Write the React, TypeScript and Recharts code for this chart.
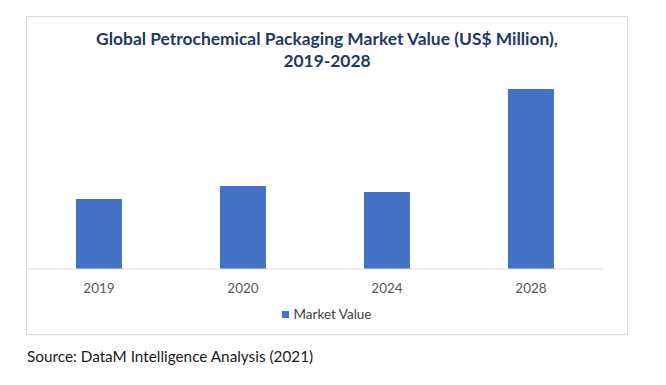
import React from 'react'
import { BarChart, Bar, XAxis, YAxis, Legend } from 'recharts'

const years = ['2019', '2020', '2024', '2028']
const marketValue = [70, 83, 77, 180]

const data = years.map((year, i) => ({ year, value: marketValue[i] }))

const font = 'Lato, "Open Sans", sans-serif'

const LegendContent = () => (
  <div style={{ display: 'flex', justifyContent: 'center', alignItems: 'center', height: 20 }}>
    <span style={{ width: 7, height: 7, background: '#4472c4', marginRight: 4 }} />
    <span style={{ fontSize: 13.5, color: '#404040', fontFamily: font }}>Market Value</span>
  </div>
)

export default function App() {
  return (
    <div style={{ position: 'absolute', left: 0, top: 0, width: 666, height: 385, background: '#fff', fontFamily: font }}>
      <div
        style={{
          position: 'absolute', left: 26, top: 16, width: 600, height: 317,
          border: '1px solid #d9d9d9',
        }}
      />
      <div
        style={{
          position: 'absolute', left: 26, top: 28, width: 602, textAlign: 'center',
          fontSize: 17.4, fontWeight: 700, color: '#1f3864', lineHeight: '22px',
        }}
      >
        Global Petrochemical Packaging Market Value (US$ Million),
        <br />
        2019-2028
      </div>
      <div style={{ position: 'absolute', left: 26, top: 16 }}>
        <BarChart width={603} height={320} data={data} margin={{ top: 53, right: 26, bottom: 21, left: 1 }} barCategoryGap="34%">
          <YAxis hide domain={[0, 200]} />
          <XAxis
            dataKey="year"
            height={26}
            stroke="#d9d9d9"
            tickLine={false}
            tickSize={6}
            tickMargin={8}
            tick={{ fontSize: 13.5, fill: '#595959', fontFamily: font }}
          />
          <Legend
            verticalAlign="bottom"
            content={<LegendContent />}
            wrapperStyle={{ top: 288, left: 0, width: 602, height: 20 }}
          />
          <Bar dataKey="value" fill="#4472c4" isAnimationActive={false} />
        </BarChart>
      </div>
      <div style={{ position: 'absolute', left: 27, top: 347, fontSize: 15.3, color: '#1a1a1a' }}>
        Source: DataM Intelligence Analysis (2021)
      </div>
    </div>
  )
}
